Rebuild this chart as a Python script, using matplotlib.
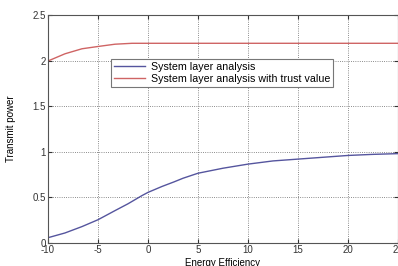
import numpy as np
import matplotlib.pyplot as plt

# ------------------------------
# DATA
# ------------------------------
x_basic = [-10, -8.3, -6.6, -5, -3.3, -2, -0.6, 0, 1.4, 2.6, 3.5, 5, 7.5, 10, 12.5, 15, 17.5, 20, 22.5, 25]
power_basic = [0.058, 0.11, 0.18, 0.255, 0.355, 0.43, 0.52, 0.555, 0.62, 0.67, 0.71, 0.765,
               0.82, 0.865, 0.9, 0.92, 0.94, 0.96, 0.972, 0.98]

x_trust = [-10, -8.3, -6.6, -5, -3.3, -1.6, 0, 5, 10, 15, 20, 25]
power_trust = [1.996, 2.075, 2.13, 2.155, 2.18, 2.19, 2.19, 2.19, 2.19, 2.19, 2.19, 2.19]

labels = ["System layer analysis", "System layer analysis with trust value"]
xticks = [-10, -5, 0, 5, 10, 15, 20, 25]
yticks = [0, 0.5, 1, 1.5, 2, 2.5]
yticklabels = ["0", "0.5", "1", "1.5", "2", "2.5"]

plt.rcParams['font.family'] = ['Liberation Sans', 'DejaVu Sans']
plt.rcParams['axes.unicode_minus'] = False

fig = plt.figure(figsize=(3.98, 2.66), dpi=100)
ax = fig.add_axes([0.1206, 0.0865, 0.8794, 0.857])

ax.plot(x_basic, power_basic, color='#55559e', lw=1.0, label=labels[0])
ax.plot(x_trust, power_trust, color='#cf6464', lw=1.0, label=labels[1])

ax.set_xlim(-10, 25)
ax.set_ylim(0, 2.5)
ax.set_xticks(xticks)
ax.set_yticks(yticks)
ax.set_yticklabels(yticklabels)
ax.tick_params(direction='in', labelsize=7, length=3, top=True, right=True,
               colors='#333333', pad=1.5)
ax.grid(True, linestyle=':', color='#666666', lw=0.6)
for s in ax.spines.values():
    s.set_color('#555555')
    s.set_linewidth(0.8)

ax.set_xlabel("Energy Efficiency", fontsize=7, labelpad=2)
ax.set_ylabel("Transmit power", fontsize=7, labelpad=12)

leg = ax.legend(loc='upper left', bbox_to_anchor=(0.18, 0.807), borderaxespad=0,
                fontsize=7.7, fancybox=False, edgecolor='#777777', framealpha=1,
                handlelength=2.9, labelspacing=0.15, borderpad=0.3, handletextpad=0.5)
leg.get_frame().set_linewidth(0.8)

fig.savefig("out.png", dpi=100)
